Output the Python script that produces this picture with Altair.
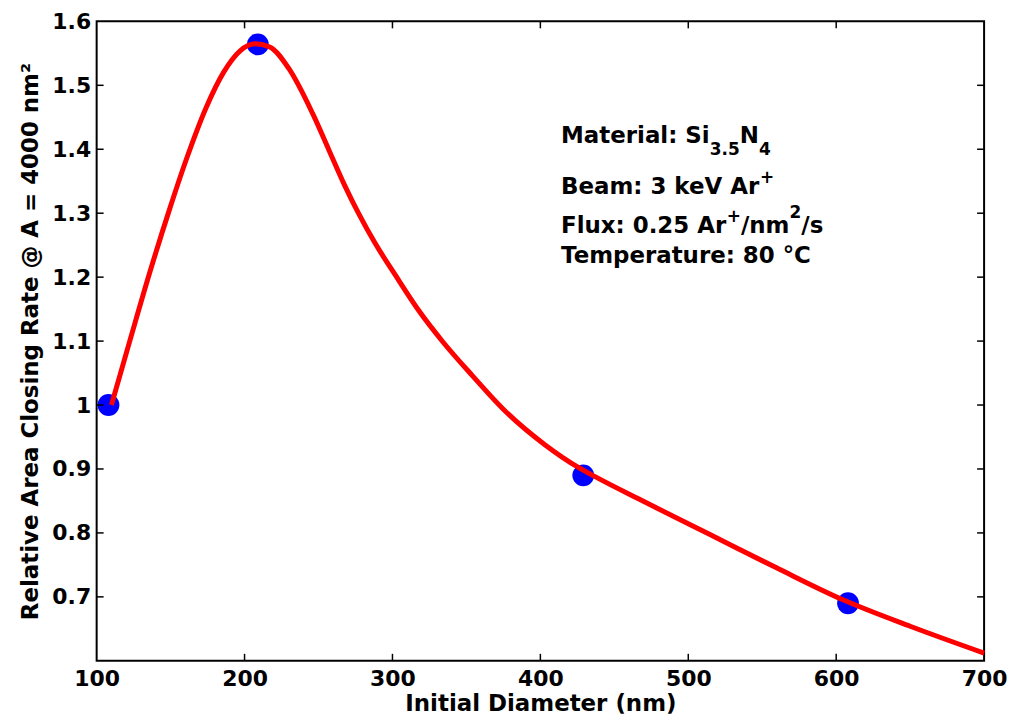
import altair as alt
import pandas as pd

# ---------------- data ----------------
pts_x = [108, 209, 429, 608]
pts_y = [1.000, 1.564, 0.890, 0.690]

curve_x = [110, 123, 136, 149, 160, 174, 186, 197, 207, 217, 230, 246, 257,
           268, 277, 288, 302, 318, 334, 354, 376, 403, 426, 437, 470, 515,
           560, 605, 650, 700]
curve_y = [1.000, 1.105, 1.208, 1.304, 1.380, 1.465, 1.521, 1.554, 1.565,
           1.560, 1.526, 1.456, 1.399, 1.342, 1.300, 1.254, 1.203, 1.147,
           1.099, 1.046, 0.991, 0.938, 0.902, 0.888, 0.849, 0.797, 0.745,
           0.695, 0.654, 0.612]

x_tick_values = [100, 200, 300, 400, 500, 600, 700]
y_tick_values = [0.7, 0.8, 0.9, 1.0, 1.1, 1.2, 1.3, 1.4, 1.5, 1.6]
x_inner_ticks = [200, 300, 400, 500, 600]
y_inner_ticks = [0.7, 0.8, 0.9, 1.0, 1.1, 1.2, 1.3, 1.4, 1.5]

x_title = "Initial Diameter (nm)"
y_title = "Relative Area Closing Rate @ A = 4000 nm\u00b2"

# annotation lines: (text, kind) segments; kind: n=normal, b=subscript, p=superscript
ann_lines = [
    [("Material: Si", "n"), ("3.5", "b"), ("N", "n"), ("4", "b")],
    [("Beam: 3 keV Ar", "n"), ("+", "p")],
    [("Flux: 0.25 Ar", "n"), ("+", "p"), ("/nm", "n"), ("2", "p"), ("/s", "n")],
    [("Temperature: 80 \u00b0C", "n")],
]
ann_x = 414
ann_y = [1.410, 1.3305, 1.2698, 1.2215]

# ---------------- style ----------------
W, H = 891, 642
FONT = "DejaVu Sans"
TICK = 22
MAIN = 23
SMALL = 17

# DejaVu Sans Bold advance widths (em)
AW = {" ": .348, "(": .457, ")": .457, "+": .838, ".": .380, "/": .365,
      ":": .400, "=": .838, "\u00b0": .500, "A": .774, "B": .762, "C": .734,
      "D": .830, "F": .683, "M": .995, "N": .837, "S": .720, "T": .682,
      "V": .774, "a": .675, "e": .678, "i": .343, "k": .665, "l": .343,
      "m": 1.042, "n": .712, "p": .716, "r": .493, "s": .595, "t": .478,
      "u": .712, "x": .663}


def text_width(s, size):
    return sum(AW.get(c, .696) for c in s) * size


xs = alt.Scale(domain=[100, 700], nice=False, zero=False)
ys = alt.Scale(domain=[0.6, 1.6], nice=False, zero=False)

pts = pd.DataFrame({"d": pts_x, "r": pts_y})
curve = pd.DataFrame({"d": curve_x, "r": curve_y})

X_AXIS = alt.Axis(values=x_tick_values, ticks=False, domain=False, grid=False,
                  labelFontSize=TICK, labelFontWeight="bold", labelFont=FONT,
                  labelColor="black", labelPadding=8, labelFlush=False,
                  title=x_title, titleFontSize=MAIN, titleFontWeight="bold",
                  titleFont=FONT, titleColor="black", titlePadding=3)
Y_AXIS = alt.Axis(values=y_tick_values, ticks=False, domain=False, grid=False,
                  labelFontSize=TICK, labelFontWeight="bold", labelFont=FONT,
                  labelColor="black", labelPadding=6, labelFlush=False,
                  labelExpr="datum.value == 1 ? '1' : format(datum.value, '.1f')",
                  title=y_title, titleFontSize=MAIN, titleFontWeight="bold",
                  titleFont=FONT, titleColor="black", titlePadding=9)


def X(field):
    return alt.X(field, scale=xs, axis=X_AXIS)


def Y(field):
    return alt.Y(field, scale=ys, axis=Y_AXIS)


points = alt.Chart(pts).mark_circle(size=480, color="#0000ff", opacity=1).encode(
    x=X("d:Q"), y=Y("r:Q"))

line = alt.Chart(curve).mark_line(color="#ff0000", strokeWidth=5,
                                  interpolate="monotone").encode(
    x=X("d:Q"), y=Y("r:Q"))

xt = pd.DataFrame({"d": x_inner_ticks})
yt = pd.DataFrame({"r": y_inner_ticks})
TL = 7
tick_layers = [
    alt.Chart(xt).mark_rule(color="black", strokeWidth=1.5).encode(
        x=X("d:Q"), y=alt.value(H), y2=alt.value(H - TL)),
    alt.Chart(xt).mark_rule(color="black", strokeWidth=1.5).encode(
        x=X("d:Q"), y=alt.value(0), y2=alt.value(TL)),
    alt.Chart(yt).mark_rule(color="black", strokeWidth=1.5).encode(
        y=Y("r:Q"), x=alt.value(0), x2=alt.value(TL)),
    alt.Chart(yt).mark_rule(color="black", strokeWidth=1.5).encode(
        y=Y("r:Q"), x=alt.value(W), x2=alt.value(W - TL)),
]

ann_layers = []
for segs, yv in zip(ann_lines, ann_y):
    off = 0.0
    for txt, kind in segs:
        size = MAIN if kind == "n" else SMALL
        if kind == "n":
            dy = 0
        elif kind == "b":
            dy = 12
        else:
            dy = -11 if txt == "+" else -15
        df = pd.DataFrame({"d": [ann_x], "r": [yv], "t": [txt]})
        ann_layers.append(
            alt.Chart(df).mark_text(align="left", baseline="alphabetic",
                                    font=FONT, fontWeight="bold", fontSize=size,
                                    color="black", dx=off, dy=dy).encode(
                x=X("d:Q"), y=Y("r:Q"), text="t:N")
        )
        off += text_width(txt, size)

chart = alt.layer(points, line, *tick_layers, *ann_layers).properties(
    width=W, height=H,
    background="white",
    autosize=alt.AutoSizeParams(type="none"),
    padding={"left": 89, "top": 12, "right": 24, "bottom": 56},
).configure_view(stroke="black", strokeWidth=2)

chart.save("out.html", embed_options={"renderer": "svg", "actions": False})
